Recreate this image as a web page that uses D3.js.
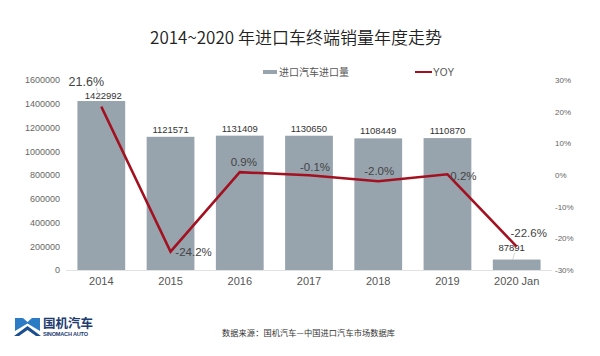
<!DOCTYPE html>
<html><head><meta charset="utf-8">
<script src="https://cdn.jsdelivr.net/npm/d3@7/dist/d3.min.js"></script>
<style>body{margin:0;background:#fff}svg{display:block}</style>
</head><body>
<svg id="c" width="600" height="356"></svg>
<script>
const categories = ["2014","2015","2016","2017","2018","2019","2020 Jan"];
const volumes = [1422992,1121571,1131409,1130650,1108449,1110870,87891];
const yoy = [21.6,-24.2,0.9,-0.1,-2.0,0.2,-22.6];
const leftTicks = [0,200000,400000,600000,800000,1000000,1200000,1400000,1600000];
const rightTicks = [-30,-20,-10,0,10,20,30];
// label offsets for YOY labels (dx, dy) relative to point
const yoyLabelOffset = [[-15,-25],[23,0],[4,-10],[6,-8],[1,-10],[16,2],[12,-14]];

const svg = d3.select("#c");
const num = "'Liberation Sans', Arial, sans-serif";
const cjk = "'Noto Sans CJK SC', sans-serif";

const x = d3.scaleBand().domain(categories).range([66,552]).paddingInner(0.31).paddingOuter(0.165);
const yL = d3.scaleLinear().domain([0,1600000]).range([270,80]);
const yR = d3.scaleLinear().domain([-30,30]).range([270,80]);

// title
svg.append("text").attr("x",296).attr("y",44).attr("text-anchor","middle")
  .attr("font-family",cjk).attr("font-size",17).attr("font-weight",350).attr("fill","#222")
  .text("2014~2020 年进口车终端销量年度走势");

// legend
svg.append("line").attr("x1",263).attr("x2",277).attr("y1",72).attr("y2",72)
  .attr("stroke","#97a3ad").attr("stroke-width",4);
svg.append("text").attr("x",279).attr("y",76).attr("font-family",cjk).attr("font-size",10)
  .attr("fill","#555").text("进口汽车进口量");
svg.append("line").attr("x1",415).attr("x2",432).attr("y1",72).attr("y2",72)
  .attr("stroke","#a3101f").attr("stroke-width",2);
svg.append("text").attr("x",433).attr("y",76).attr("font-family",num).attr("font-size",10)
  .attr("fill","#555").text("YOY");

// left axis
const gL = svg.append("g").attr("transform","translate(60,0)")
  .call(d3.axisLeft(yL).tickValues(leftTicks).tickSize(0).tickPadding(0).tickFormat(d3.format("d")));
gL.select(".domain").remove();
gL.selectAll("text").attr("font-family",num).attr("font-size",9).attr("fill","#666");

// right axis
const gR = svg.append("g").attr("transform","translate(555,0)")
  .call(d3.axisRight(yR).tickValues(rightTicks).tickSize(0).tickPadding(0).tickFormat(d=>d+"%"));
gR.select(".domain").remove();
gR.selectAll("text").attr("font-family",num).attr("font-size",8).attr("fill","#666");

// bars
svg.append("g").selectAll("rect").data(volumes).join("rect")
  .attr("x",(d,i)=>x(categories[i])).attr("width",x.bandwidth())
  .attr("y",d=>yL(d)).attr("height",d=>yL(0)-yL(d)).attr("fill","#97a3ad");

// baseline
svg.append("line").attr("x1",66).attr("x2",552).attr("y1",270.5).attr("y2",270.5)
  .attr("stroke","#e2e2e2").attr("stroke-width",1);

// x axis labels
const gX = svg.append("g").attr("transform","translate(0,273)")
  .call(d3.axisBottom(x).tickSize(0).tickPadding(0));
gX.select(".domain").remove();
gX.selectAll("text").attr("dy","0.71em").attr("y",4).attr("font-family",num).attr("font-size",11).attr("fill","#555");

// value labels
svg.append("g").selectAll("text").data(volumes).join("text")
  .attr("x",(d,i)=>x(categories[i])+x.bandwidth()/2 + (i===6? -5:(i===0?2:0)))
  .attr("y",(d,i)=> i===6 ? yL(d)-9 : (i===0 ? yL(d)-2.5 : yL(d)-4))
  .attr("text-anchor","middle").attr("font-family",num).attr("font-size",9.5).attr("fill","#333")
  .text(d=>d);

// leader lines
const cx = i => x(categories[i])+x.bandwidth()/2;
svg.append("line").attr("x1",cx(0)-5).attr("y1",yR(yoy[0])-19).attr("x2",cx(0)-1).attr("y2",yL(volumes[0])-1)
  .attr("stroke","#bbb").attr("stroke-width",0.6);
svg.append("line").attr("x1",cx(6)-2).attr("y1",yL(volumes[6])-7).attr("x2",cx(6)-4).attr("y2",yL(volumes[6]))
  .attr("stroke","#bbb").attr("stroke-width",0.6);

// yoy line
const line = d3.line().x((d,i)=>cx(i)).y(d=>yR(d));
svg.append("path").datum(yoy).attr("d",line).attr("fill","none")
  .attr("stroke","#a3101f").attr("stroke-width",2.5).attr("stroke-linejoin","miter");

// yoy labels
svg.append("g").selectAll("text").data(yoy).join("text")
  .attr("x",(d,i)=>cx(i)+yoyLabelOffset[i][0]).attr("y",(d,i)=>yR(d)+yoyLabelOffset[i][1])
  .attr("dy","0.35em").attr("text-anchor","middle")
  .attr("font-family",num).attr("font-size",(d,i)=>i===0?12.5:11.5).attr("fill","#444")
  .text(d=>d.toFixed(1)+"%");

// logo
const logo = svg.append("g");
logo.append("path").attr("d","M15,318 L23,318 L27.5,322 L32,318 L40,318 L40,331 L27.5,323.5 L15,331 Z").attr("fill","#2b7cc4");
logo.append("path").attr("d","M14,336 L27.5,326 L41,336 L36,336 L27.5,330 L19,336 Z").attr("fill","#1b4f8f");
logo.append("text").attr("x",43).attr("y",328).attr("font-family",cjk).attr("font-weight","bold")
  .attr("font-size",12.5).attr("fill","#1d3c70").text("国机汽车");
logo.append("text").attr("x",43).attr("y",336).attr("font-family",num).attr("font-weight","bold")
  .attr("font-size",5.6).attr("fill","#1d3c70").attr("textLength",45).text("SINOMACH AUTO");

// source
svg.append("text").attr("x",222).attr("y",336).attr("font-family",cjk).attr("font-size",8.2)
  .attr("fill","#333").attr("textLength",173).text("数据来源：国机汽车—中国进口汽车市场数据库");
</script>
</body></html>
